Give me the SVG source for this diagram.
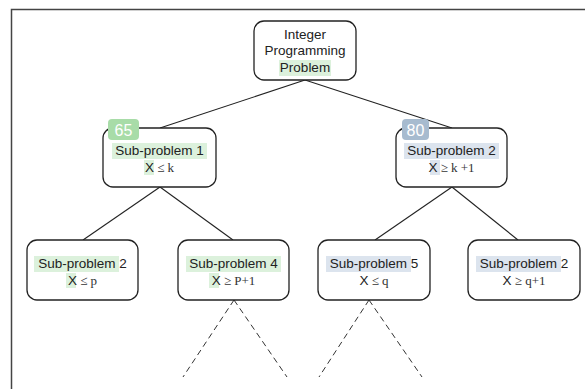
<svg xmlns="http://www.w3.org/2000/svg" width="585" height="389" viewBox="0 0 585 389">
<style>
.box{fill:#fff;stroke:#222;stroke-width:1.3}
.t{font-family:"Liberation Sans",Arial,sans-serif;font-size:13.5px;fill:#222;text-anchor:middle}
.m{font-family:"Liberation Serif","Times New Roman",serif;font-size:13px;fill:#333}
.hg{fill:#dcf1dc}
.hb{fill:#dce4ee}
.edge{stroke:#222;stroke-width:1.1;fill:none}
.dash{stroke:#333;stroke-width:1;stroke-dasharray:6 4;fill:none}
.badge{font-family:"Liberation Sans",Arial,sans-serif;font-size:16px;fill:#fff;text-anchor:middle}
</style>
<rect width="585" height="389" fill="#fff"/>
<path d="M11.5 389 V9.5 H585" fill="none" stroke="#444" stroke-width="1.5"/>
<g id="connectors">
<line class="edge" x1="305" y1="80" x2="160" y2="128"/>
<line class="edge" x1="305" y1="80" x2="452" y2="128"/>
<line class="edge" x1="160" y1="187" x2="83" y2="240"/>
<line class="edge" x1="160" y1="187" x2="233" y2="240"/>
<line class="edge" x1="452" y1="187" x2="375" y2="240"/>
<line class="edge" x1="452" y1="187" x2="518" y2="240"/>
<line class="dash" x1="234" y1="300" x2="183" y2="377"/>
<line class="dash" x1="234" y1="300" x2="287" y2="377"/>
<line class="dash" x1="369" y1="300" x2="319" y2="377"/>
<line class="dash" x1="369" y1="300" x2="422" y2="377"/>
</g>
<g id="root">
<rect class="box" x="254" y="21" width="102" height="59" rx="10"/>
<text class="t" x="305" y="39">Integer</text>
<text class="t" x="305" y="55">Programming</text>
<rect class="hg" x="279" y="60" width="52" height="16"/>
<text class="t" x="305" y="72">Problem</text>
</g>
<g id="sub1">
<rect class="box" x="103" y="128" width="113" height="59" rx="10"/>
<rect x="108" y="119" width="31" height="21" rx="4" fill="#a8dca8"/>
<text class="badge" x="123.5" y="136">65</text>
<rect class="hg" x="112" y="143" width="95" height="16"/>
<text class="t" x="159.5" y="155">Sub-problem 1</text>
<rect class="hg" x="144" y="160" width="10" height="15"/>
<text class="t" x="159.5" y="172"><tspan>X</tspan><tspan class="m"> ≤ k</tspan></text>
</g>
<g id="sub2">
<rect class="box" x="396" y="128" width="111" height="59" rx="10"/>
<rect x="402" y="119" width="27" height="21" rx="4" fill="#a7bbcf"/>
<text class="badge" x="415.5" y="136">80</text>
<rect class="hb" x="404" y="143" width="95" height="16"/>
<text class="t" x="451.5" y="155">Sub-problem 2</text>
<rect class="hb" x="430" y="160" width="10" height="15"/>
<text class="t" x="451.5" y="172"><tspan>X</tspan><tspan class="m"> ≥ k +1</tspan></text>
</g>
<g id="sub2a">
<rect class="box" x="27" y="240" width="111" height="60" rx="10"/>
<rect class="hg" x="34" y="256" width="85" height="16"/>
<text class="t" x="82.5" y="268">Sub-problem 2</text>
<rect class="hg" x="66" y="273" width="10" height="15"/>
<text class="t" x="82.5" y="285"><tspan>X</tspan><tspan class="m"> ≤ p</tspan></text>
</g>
<g id="sub4">
<rect class="box" x="178" y="240" width="111" height="60" rx="10"/>
<rect class="hg" x="186" y="256" width="95" height="16"/>
<text class="t" x="233.5" y="268">Sub-problem 4</text>
<rect class="hg" x="209" y="273" width="10" height="15"/>
<text class="t" x="233.5" y="285"><tspan>X</tspan><tspan class="m"> ≥ P+1</tspan></text>
</g>
<g id="sub5">
<rect class="box" x="318" y="240" width="112" height="60" rx="10"/>
<rect class="hb" x="326" y="256" width="85" height="16"/>
<text class="t" x="374" y="268">Sub-problem 5</text>
<text class="t" x="374" y="285"><tspan>X</tspan><tspan class="m"> ≤ q</tspan></text>
</g>
<g id="sub2b">
<rect class="box" x="468" y="240" width="112" height="60" rx="10"/>
<rect class="hb" x="476" y="256" width="85" height="16"/>
<text class="t" x="524" y="268">Sub-problem 2</text>
<text class="t" x="524" y="285"><tspan>X</tspan><tspan class="m"> ≥ q+1</tspan></text>
</g>
</svg>
